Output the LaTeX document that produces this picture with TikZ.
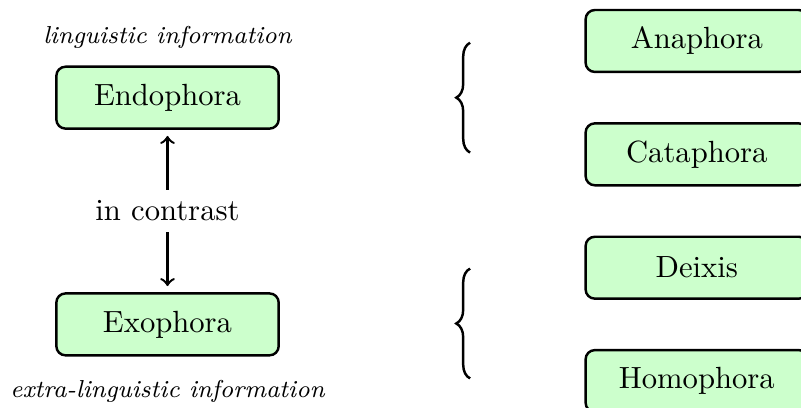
\documentclass[tikz,border=0pt]{standalone}
\usetikzlibrary{positioning,decorations.pathreplacing}
\tikzset{
	phora/.style={draw,thick,rounded corners=3pt,fill=green!20,minimum width=2.55cm,minimum height=0.71cm},
	infotext/.style={font=\footnotesize\itshape},
	curly/.style={thick,decorate,decoration={brace,amplitude=4.5pt}}
}
\begin{document}
\begin{tikzpicture}
\useasboundingbox (-1.921,1.120) rectangle (7.265,-3.559);
\node[phora] (endo) at (0,0) {Endophora};
\node[phora] (exo) at (0,-2.6) {Exophora};
\node (contrast) at (0,-1.3) {in contrast};
\node[infotext,above=0.07cm of endo] (ling) {linguistic information};
\node[infotext,below=0.15cm of exo] (extraling) {extra-linguistic information};
\draw[thick,->,shorten >=2pt] (contrast)--(endo);
\draw[thick,->,shorten >=2pt] (contrast)--(exo);
\node[phora] (ana) at (6.07,0.65) {Anaphora};
\node[phora] (cata) at (6.07,-0.65) {Cataphora};
\node[phora] (deixis) at (6.07,-1.95) {Deixis};
\node[phora] (homo) at (6.07,-3.25) {Homophora};
\draw[curly] (3.47,-0.63)--(3.47,0.63);
\draw[curly] (3.47,-3.22)--(3.47,-1.96);
\end{tikzpicture}
\end{document}
